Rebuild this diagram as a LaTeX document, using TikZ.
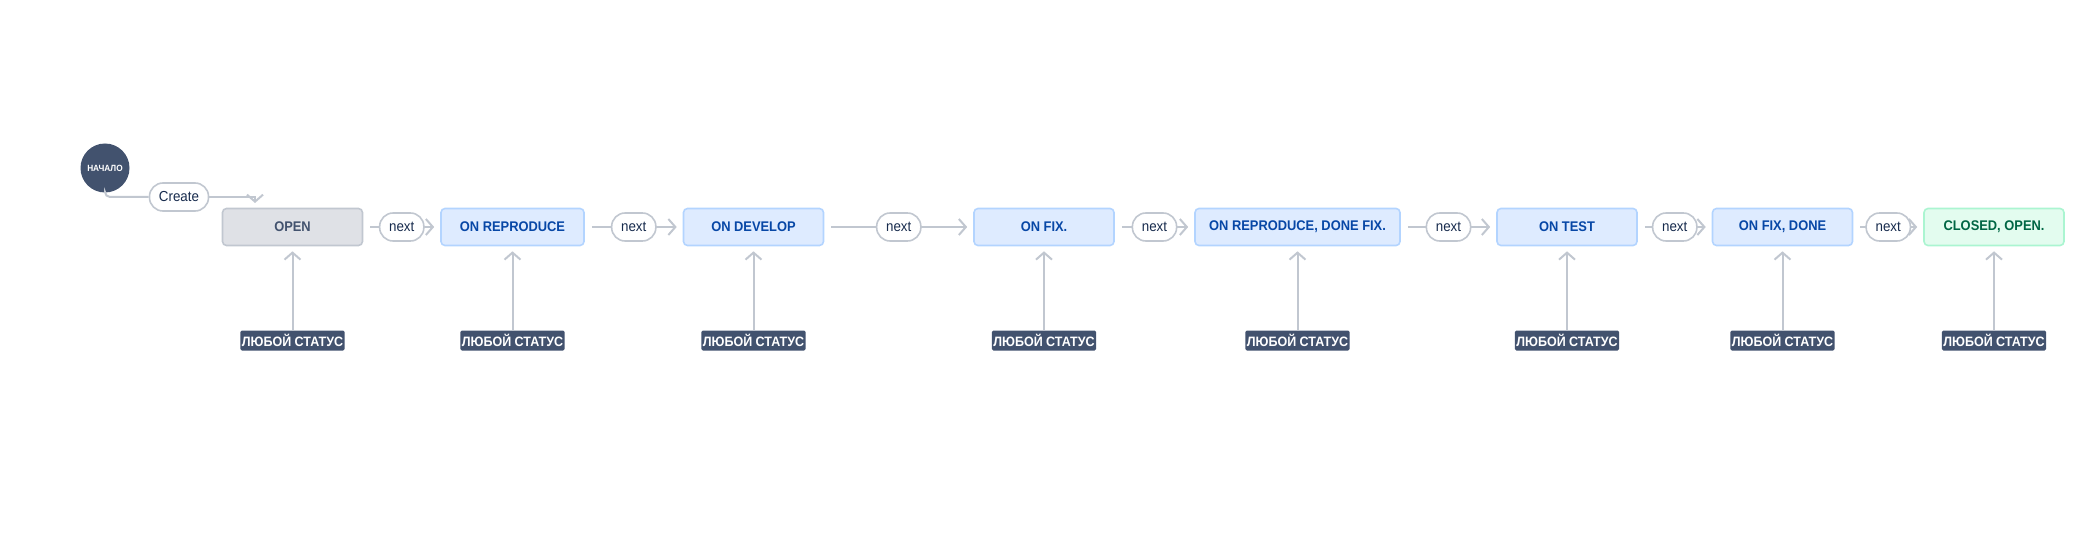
\documentclass[tikz,border=0pt]{standalone}
\usepackage{fontspec}
\setmainfont{Liberation Sans}[FakeStretch=0.92]
\usetikzlibrary{arrows.meta}

\definecolor{linegray}{HTML}{C1C7D0}
\definecolor{darkslate}{HTML}{42526E}
\definecolor{opengray}{HTML}{DFE1E6}
\definecolor{progfill}{HTML}{DEEBFF}
\definecolor{progline}{HTML}{B3D4FF}
\definecolor{progtext}{HTML}{0747A6}
\definecolor{donefill}{HTML}{E3FCEF}
\definecolor{doneline}{HTML}{ABF5D1}
\definecolor{donetext}{HTML}{006644}
\definecolor{pilltext}{HTML}{172B4D}

\tikzset{
  status/.style={draw, line width=1.6pt, rounded corners=4pt, minimum width=140pt, minimum height=37pt, inner sep=0pt, font=\bfseries\fontsize{14}{16}\selectfont},
  todo/.style={status, fill=opengray, draw=linegray, text=darkslate},
  prog/.style={status, fill=progfill, draw=progline, text=progtext},
  done/.style={status, fill=donefill, draw=doneline, text=donetext},
  anytag/.style={fill=darkslate, text=white, rounded corners=1.5pt, inner xsep=1.5pt, inner ysep=0pt, minimum height=20pt, font=\bfseries\fontsize{13.6}{16}\selectfont},
  pill/.style={draw=linegray, line width=1.6pt, fill=white, rounded corners=13.5pt, minimum height=28pt, inner xsep=9.5pt, inner ysep=0pt, text=pilltext, font=\fontsize{14.5}{17}\selectfont},
  wire/.style={draw=linegray, line width=2pt},
  flow/.style={wire, -{Straight Barb[length=7pt, width=16pt]}},
}

\begin{document}
\begin{tikzpicture}[x=1pt, y=-1pt]
            \useasboundingbox (0,0) rectangle (2075,540);

            \node[circle, fill=darkslate, minimum size=49pt, inner sep=0pt, text=white, font=\bfseries\fontsize{9}{11}\selectfont] (start) at (105,168) {НАЧАЛО};
            \node[pill] (create) at (179,197) {Create};
            \coordinate (bend) at (255,197);
            \coordinate (ctip) at (255,203);

            \node[todo] (open) at (292.5,227) {OPEN};
            \node[prog, minimum width=143pt] (onrep) at (512.5,227) {ON REPRODUCE};
            \node[prog] (ondev) at (753.5,227) {ON DEVELOP};
            \node[prog] (onfix) at (1044,227) {ON FIX.};
            \node[prog, minimum width=205pt] (onrepdone) at (1297.5,227) {ON REPRODUCE, DONE FIX.};
            \node[prog] (ontest) at (1567,227) {ON TEST};
            \node[prog] (onfixdone) at (1782.5,227) {ON FIX, DONE};
            \node[done] (closed) at (1994,227) {CLOSED, OPEN.};

            \node[anytag] (any1) at (292.5,340.5) {ЛЮБОЙ СТАТУС};
            \node[anytag] (any2) at (512.5,340.5) {ЛЮБОЙ СТАТУС};
            \node[anytag] (any3) at (753.5,340.5) {ЛЮБОЙ СТАТУС};
            \node[anytag] (any4) at (1044,340.5) {ЛЮБОЙ СТАТУС};
            \node[anytag] (any5) at (1297.5,340.5) {ЛЮБОЙ СТАТУС};
            \node[anytag] (any6) at (1567,340.5) {ЛЮБОЙ СТАТУС};
            \node[anytag] (any7) at (1782.5,340.5) {ЛЮБОЙ СТАТУС};
            \node[anytag] (any8) at (1994,340.5) {ЛЮБОЙ СТАТУС};

            \draw[wire, rounded corners=5pt] (start.south) |- (create.west);
            \draw[flow] (create.east) -- (bend) -- (ctip);

            \draw[flow, shorten <=7pt, shorten >=6pt] (open) -- node[pill] {next} (onrep);
            \draw[flow, shorten <=7pt, shorten >=6pt] (onrep) -- node[pill] {next} (ondev);
            \draw[flow, shorten <=7pt, shorten >=6pt] (ondev) -- node[pill] {next} (onfix);
            \draw[flow, shorten <=7pt, shorten >=6pt] (onfix) -- node[pill] {next} (onrepdone);
            \draw[flow, shorten <=7pt, shorten >=6pt] (onrepdone) -- node[pill] {next} (ontest);
            \draw[flow, shorten <=7pt, shorten >=6pt] (ontest) -- node[pill] {next} (onfixdone);
            \draw[flow, shorten <=7pt, shorten >=6pt] (onfixdone) -- node[pill] {next} (closed);

            \draw[flow, shorten >=5pt] (any1) -- (open);
            \draw[flow, shorten >=5pt] (any2) -- (onrep);
            \draw[flow, shorten >=5pt] (any3) -- (ondev);
            \draw[flow, shorten >=5pt] (any4) -- (onfix);
            \draw[flow, shorten >=5pt] (any5) -- (onrepdone);
            \draw[flow, shorten >=5pt] (any6) -- (ontest);
            \draw[flow, shorten >=5pt] (any7) -- (onfixdone);
            \draw[flow, shorten >=5pt] (any8) -- (closed);
        \end{tikzpicture}
\end{document}
